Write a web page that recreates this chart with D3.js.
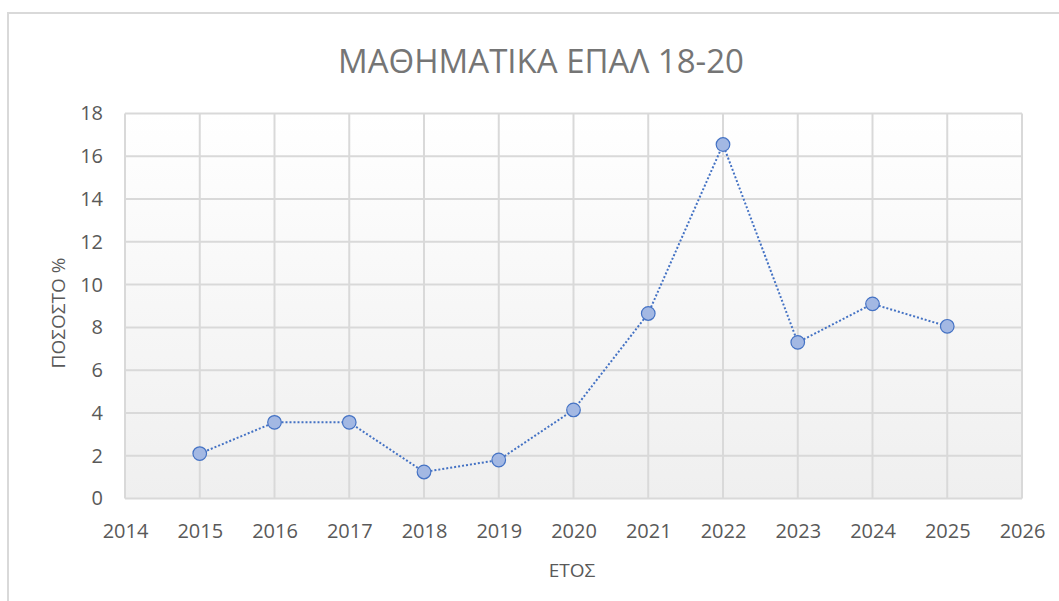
<!DOCTYPE html>
<html>
<head>
<meta charset="utf-8">
<script src="https://d3js.org/d3.v7.min.js"></script>
<style>
  body { margin: 0; background: #fff; }
  svg { display: block; font-family: "Open Sans", sans-serif; }
</style>
</head>
<body>
<div id="chart"></div>
<script>
// data
var years = [2015, 2016, 2017, 2018, 2019, 2020, 2021, 2022, 2023, 2024, 2025];
var percents = [2.1, 3.56, 3.56, 1.24, 1.8, 4.14, 8.65, 16.55, 7.3, 9.1, 8.05];
var xTicks = [2014, 2015, 2016, 2017, 2018, 2019, 2020, 2021, 2022, 2023, 2024, 2025, 2026];
var yTicks = [0, 2, 4, 6, 8, 10, 12, 14, 16, 18];

var W = 1059, H = 601;
var margin = {left: 125, right: 37, top: 113.5, bottom: 102.5};
var width = W - margin.left - margin.right,
    height = H - margin.top - margin.bottom;

var svg = d3.select("#chart").append("svg")
    .attr("width", W)
    .attr("height", H);

// chart frame
svg.append("rect")
    .attr("x", 8).attr("y", 13)
    .attr("width", W + 20).attr("height", H + 20)
    .attr("fill", "#fff")
    .attr("stroke", "#d9d9d9")
    .attr("stroke-width", 2);

var defs = svg.append("defs");
var grad = defs.append("linearGradient")
    .attr("id", "bg").attr("x1", 0).attr("y1", 0).attr("x2", 0).attr("y2", 1);
grad.append("stop").attr("offset", "0%").attr("stop-color", "#ffffff");
grad.append("stop").attr("offset", "100%").attr("stop-color", "#efefef");

var g = svg.append("g")
    .attr("transform", "translate(" + margin.left + "," + margin.top + ")");

var x = d3.scaleLinear().domain([2014, 2026]).range([0, width]);
var y = d3.scaleLinear().domain([0, 18]).range([height, 0]);

g.append("rect")
    .attr("width", width).attr("height", height)
    .attr("fill", "url(#bg)");

// grid lines
g.append("g")
    .selectAll("line")
    .data(yTicks)
    .enter().append("line")
    .attr("x1", 0).attr("x2", width)
    .attr("y1", function(d) { return y(d); })
    .attr("y2", function(d) { return y(d); })
    .attr("stroke", "#d9d9d9")
    .attr("stroke-width", 2);

g.append("g")
    .selectAll("line")
    .data(xTicks)
    .enter().append("line")
    .attr("y1", 0).attr("y2", height)
    .attr("x1", function(d) { return x(d); })
    .attr("x2", function(d) { return x(d); })
    .attr("stroke", "#d9d9d9")
    .attr("stroke-width", 2);

// axes (labels only)
var xAxis = g.append("g")
    .attr("transform", "translate(0," + height + ")")
    .call(d3.axisBottom(x).tickValues(xTicks).tickFormat(d3.format("d")).tickSize(0).tickPadding(25));
xAxis.select(".domain").remove();
xAxis.selectAll("text")
    .attr("fill", "#595959")
    .style("font-size", "20px")
    .style("font-family", "'Open Sans', sans-serif");

var yAxis = g.append("g")
    .call(d3.axisLeft(y).tickValues(yTicks).tickSize(0).tickPadding(22));
yAxis.select(".domain").remove();
yAxis.selectAll("text")
    .attr("fill", "#595959")
    .style("font-size", "20px")
    .style("font-family", "'Open Sans', sans-serif");

// series
var pts = years.map(function(d, i) { return {year: d, value: percents[i]}; });

g.append("path")
    .datum(pts)
    .attr("fill", "none")
    .attr("stroke", "#4472c4")
    .attr("stroke-width", 2)
    .attr("stroke-dasharray", "2,2")
    .attr("d", d3.line()
        .x(function(d) { return x(d.year); })
        .y(function(d) { return y(d.value); }));

g.append("g")
    .selectAll("circle")
    .data(pts)
    .enter().append("circle")
    .attr("cx", function(d) { return x(d.year); })
    .attr("cy", function(d) { return y(d.value); })
    .attr("r", 6.8)
    .attr("fill", "#a3b8e3")
    .attr("stroke", "#4472c4")
    .attr("stroke-width", 1.2);

// titles
svg.append("text")
    .attr("x", 541).attr("y", 73)
    .attr("text-anchor", "middle")
    .attr("fill", "#757575")
    .style("font-size", "33px")
    .text("ΜΑΘΗΜΑΤΙΚΑ ΕΠΑΛ 18-20");

svg.append("text")
    .attr("x", 572).attr("y", 577)
    .attr("text-anchor", "middle")
    .attr("fill", "#595959")
    .style("font-size", "19px")
    .text("ΕΤΟΣ");

svg.append("text")
    .attr("transform", "translate(65,313) rotate(-90)")
    .attr("text-anchor", "middle")
    .attr("fill", "#595959")
    .style("font-size", "19px")
    .text("ΠΟΣΟΣΤΟ %");
</script>
</body>
</html>
